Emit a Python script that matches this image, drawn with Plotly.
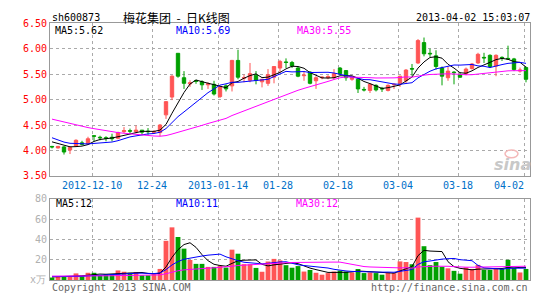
import plotly.graph_objects as go
import pandas as pd

W, H = 545, 300

dates = [
    "2012-11-29", "2012-11-30", "2012-12-03", "2012-12-04", "2012-12-05", "2012-12-06", "2012-12-07",
    "2012-12-10", "2012-12-11", "2012-12-12", "2012-12-13", "2012-12-14", "2012-12-17", "2012-12-18",
    "2012-12-19", "2012-12-20", "2012-12-21", "2012-12-24", "2012-12-25", "2012-12-26", "2012-12-27",
    "2012-12-28", "2013-01-04", "2013-01-07", "2013-01-08", "2013-01-09", "2013-01-10", "2013-01-11",
    "2013-01-14", "2013-01-15", "2013-01-16", "2013-01-17", "2013-01-18", "2013-01-21", "2013-01-22",
    "2013-01-23", "2013-01-24", "2013-01-25", "2013-01-28", "2013-01-29", "2013-01-30", "2013-01-31",
    "2013-02-01", "2013-02-04", "2013-02-05", "2013-02-06", "2013-02-07", "2013-02-08", "2013-02-18",
    "2013-02-19", "2013-02-20", "2013-02-21", "2013-02-22", "2013-02-25", "2013-02-26", "2013-02-27",
    "2013-02-28", "2013-03-01", "2013-03-04", "2013-03-05", "2013-03-06", "2013-03-07", "2013-03-08",
    "2013-03-11", "2013-03-12", "2013-03-13", "2013-03-14", "2013-03-15", "2013-03-18", "2013-03-19",
    "2013-03-20", "2013-03-21", "2013-03-22", "2013-03-25", "2013-03-26", "2013-03-27", "2013-03-28",
    "2013-03-29", "2013-04-01", "2013-04-02",
]

open_ = [4.08, 4.05, 4.07, 4.01, 4.09, 4.15, 4.13, 4.29, 4.26, 4.25,
         4.26, 4.24, 4.37, 4.39, 4.37, 4.40, 4.38, 4.36, 4.35, 4.70,
         5.05, 5.91, 5.43, 5.31, 5.37, 5.35, 5.29, 5.30, 5.06, 5.27,
         5.27, 5.77, 5.42, 5.38, 5.48, 5.35, 5.32, 5.44, 5.62, 5.74,
         5.73, 5.62, 5.47, 5.54, 5.37, 5.43, 5.43, 5.43, 5.62, 5.57,
         5.40, 5.40, 5.20, 5.18, 5.28, 5.22, 5.18, 5.29, 5.32, 5.37,
         5.61, 5.72, 6.12, 5.91, 5.86, 5.62, 5.43, 5.54, 5.49, 5.51,
         5.61, 5.72, 5.83, 5.87, 5.66, 5.83, 5.81, 5.80, 5.56, 5.63]
high = [4.09, 4.09, 4.09, 4.08, 4.22, 4.19, 4.27, 4.30, 4.29, 4.28,
        4.33, 4.37, 4.46, 4.43, 4.49, 4.40, 4.44, 4.40, 4.52, 4.97,
        5.48, 5.91, 5.56, 5.38, 5.39, 5.38, 5.34, 5.37, 5.27, 5.30,
        5.78, 5.98, 5.49, 5.72, 5.56, 5.40, 5.60, 5.66, 5.78, 5.81,
        5.76, 5.65, 5.56, 5.56, 5.46, 5.46, 5.48, 5.60, 5.64, 5.58,
        5.46, 5.41, 5.25, 5.32, 5.30, 5.25, 5.30, 5.32, 5.47, 5.60,
        5.70, 6.19, 6.22, 6.00, 5.97, 5.65, 5.65, 5.56, 5.54, 5.63,
        5.72, 5.92, 5.92, 5.89, 5.89, 5.85, 6.06, 5.82, 5.63, 5.65]
low = [4.04, 4.04, 3.92, 3.93, 4.07, 4.10, 4.11, 4.18, 4.20, 4.18,
       4.18, 4.22, 4.34, 4.32, 4.34, 4.30, 4.31, 4.33, 4.28, 4.62,
       4.99, 5.43, 5.21, 5.25, 5.31, 5.19, 5.21, 5.08, 5.03, 5.16,
       5.16, 5.40, 5.34, 5.34, 5.30, 5.24, 5.27, 5.32, 5.53, 5.62,
       5.62, 5.44, 5.37, 5.30, 5.21, 5.40, 5.40, 5.40, 5.48, 5.37,
       5.37, 5.13, 5.16, 5.13, 5.16, 5.15, 5.16, 5.21, 5.25, 5.31,
       5.47, 5.70, 5.85, 5.84, 5.59, 5.28, 5.37, 5.30, 5.43, 5.48,
       5.59, 5.70, 5.72, 5.62, 5.46, 5.76, 5.78, 5.56, 5.53, 5.34]
close = [4.07, 4.08, 3.97, 4.06, 4.20, 4.12, 4.23, 4.28, 4.25, 4.24,
         4.23, 4.35, 4.39, 4.38, 4.40, 4.36, 4.37, 4.37, 4.50, 4.96,
         5.46, 5.46, 5.32, 5.33, 5.36, 5.29, 5.31, 5.11, 5.25, 5.21,
         5.77, 5.44, 5.43, 5.51, 5.38, 5.40, 5.49, 5.65, 5.75, 5.73,
         5.66, 5.46, 5.48, 5.32, 5.43, 5.44, 5.45, 5.51, 5.51, 5.43,
         5.44, 5.21, 5.19, 5.30, 5.19, 5.21, 5.28, 5.30, 5.46, 5.58,
         5.60, 6.16, 5.90, 5.90, 5.65, 5.46, 5.56, 5.53, 5.44, 5.60,
         5.70, 5.89, 5.82, 5.65, 5.87, 5.82, 5.80, 5.59, 5.58, 5.40]
# closes of the 29 sessions before the visible window (feed the moving averages)
close_before = [4.95, 4.96, 4.94, 4.94, 4.95, 4.90, 4.92, 4.88, 4.85, 4.85,
                4.80, 4.78, 4.75, 4.72, 4.70, 4.66, 4.68, 4.62, 4.58, 4.55,
                4.50, 4.40, 4.30, 4.25, 4.20, 4.22, 4.18, 4.20, 4.18]

# volume in 万手
volume = [2.5, 3.5, 3.2, 4.0, 6.6, 4.0, 7.2, 7.2, 4.7, 5.7,
          5.7, 9.5, 8.2, 7.2, 7.9, 4.7, 4.7, 5.7, 11.0, 38.7,
          52.0, 42.5, 31.0, 19.8, 16.0, 16.0, 13.0, 13.0, 14.0, 12.3,
          30.0, 26.0, 15.7, 15.7, 12.0, 8.2, 18.3, 20.9, 19.4, 14.7,
          12.2, 13.8, 8.4, 10.0, 7.2, 5.3, 6.9, 8.4, 9.4, 8.4,
          7.5, 10.9, 6.9, 7.5, 6.9, 5.3, 7.5, 6.9, 18.4, 17.8,
          15.6, 61.6, 33.4, 14.7, 17.8, 13.1, 11.6, 9.1, 6.3, 12.5,
          11.0, 15.0, 10.0, 10.0, 11.0, 11.0, 20.0, 12.0, 7.5, 11.0]
volume_before = [4, 5, 4, 3, 5, 4, 4, 5, 3, 4, 4, 5, 4, 4, 3, 4, 5, 4, 4, 3,
                 4, 4, 3, 4, 5, 3, 3, 4, 3]

tick_dates = ["2012-12-10", "2012-12-24", "2013-01-14", "2013-01-28",
              "2013-02-18", "2013-03-04", "2013-03-18", "2013-04-02"]
tick_labels = ["2012-12-10", "12-24", "2013-01-14", "01-28",
               "02-18", "03-04", "03-18", "04-02"]
price_ticks = [3.5, 4.0, 4.5, 5.0, 5.5, 6.0, 6.5]
vol_ticks = [20, 40, 60, 80]

title_code = "sh600873"
title_name = "梅花集团\u00a0\u00a0-\u00a0\u00a0日K线图"
stamp = "2013-04-02 15:03:07"
ma_price_labels = ["MA5:5.62", "MA10:5.69", "MA30:5.55"]
ma_vol_labels = ["MA5:12", "MA10:11", "MA30:12"]

RED = "#ff5555"
GREEN = "#00a000"
MA_COLORS = ["#000000", "#0000ff", "#ff00ff"]
MONO = "DejaVu Sans Mono"

n = len(dates)
idx = list(range(n))
npre = len(close_before)

cs = pd.Series(close_before + close)
vs = pd.Series(volume_before + volume)
price_ma = [cs.rolling(k).mean().iloc[npre:].tolist() for k in (5, 10, 30)]
vol_ma = [vs.rolling(k).mean().iloc[npre:].tolist() for k in (5, 10, 30)]

vol_colors = [RED if c >= o else GREEN for o, c in zip(open_, close)]

tick_pos = [dates.index(d) for d in tick_dates]
grid_pos = [p - 0.3 for p in tick_pos]

fig = go.Figure()

fig.add_trace(go.Candlestick(
    x=idx, open=open_, high=high, low=low, close=close,
    increasing=dict(line=dict(color=RED, width=1), fillcolor=RED),
    decreasing=dict(line=dict(color=GREEN, width=1), fillcolor=GREEN),
    whiskerwidth=0, xaxis="x", yaxis="y", hoverinfo="skip",
))
for ma, col in zip(price_ma, MA_COLORS):
    fig.add_trace(go.Scatter(x=idx, y=ma, mode="lines", line=dict(color=col, width=1),
                             xaxis="x", yaxis="y", hoverinfo="skip"))

fig.add_trace(go.Bar(x=idx, y=volume, marker=dict(color=vol_colors, line=dict(width=0)),
                     width=0.8, xaxis="x2", yaxis="y2", hoverinfo="skip"))
for ma, col in zip(vol_ma, MA_COLORS):
    fig.add_trace(go.Scatter(x=idx, y=ma, mode="lines", line=dict(color=col, width=1),
                             xaxis="x2", yaxis="y2", hoverinfo="skip"))

X0, X1 = 50, 530
xr = [(X0 - 52) / 6, (X1 - 52) / 6]


def px(x):
    return x / W


def py(y):
    return 1 - y / H


axis_common = dict(showgrid=True, gridcolor="#aaaaaa", griddash="dot", gridwidth=1,
                   showline=True, mirror=True, linecolor="#999999", linewidth=1,
                   zeroline=False, fixedrange=True, ticks="")

fig.update_layout(
    width=W, height=H, margin=dict(l=0, r=0, t=0, b=0),
    paper_bgcolor="white", plot_bgcolor="white", showlegend=False,
    boxgap=0.2,
    xaxis=dict(domain=[px(X0), px(X1)], range=xr, tickvals=grid_pos, showticklabels=False,
               anchor="y", rangeslider=dict(visible=False), **axis_common),
    yaxis=dict(domain=[py(177), py(18)], range=[3.5, 6.5], tickvals=price_ticks,
               ticktext=[f"{v:.2f}" for v in price_ticks], anchor="x",
               tickfont=dict(family=MONO, size=10, color="#ff0000"), **axis_common),
    xaxis2=dict(domain=[px(X0), px(X1)], range=xr, tickvals=grid_pos, showticklabels=False,
                anchor="y2", **axis_common),
    yaxis2=dict(domain=[py(285.5), py(201)], range=[0, 80], tickvals=vol_ticks, anchor="x2",
                tickfont=dict(family=MONO, size=10, color="#b0b0b0"), **axis_common),
)

ann = []


def text(x, y, s, color="#000000", anchor="left", size=10, family=MONO):
    ann.append(dict(x=px(x), y=py(y), xref="paper", yref="paper", text=s, showarrow=False,
                    xanchor=anchor, yanchor="middle",
                    font=dict(family=family, size=size, color=color)))


text(50, 12, title_code)
text(121, 12, title_name, size=12, family="Noto Sans CJK SC")
text(532, 12, stamp, anchor="right")

for lab, col, x in zip(ma_price_labels, MA_COLORS, [53, 174, 295]):
    text(x, 25, lab, color=col)
for lab, col, x in zip(ma_vol_labels, MA_COLORS, [54, 174, 294]):
    text(x, 206, lab, color=col)

# date labels below the price panel
for p, lab in zip(grid_pos, tick_labels):
    if lab == tick_labels[-1]:
        ann.append(dict(x=p + 0.35, y=py(187), xref="x", yref="paper", text=lab, showarrow=False,
                        xanchor="right", yanchor="middle",
                        font=dict(family=MONO, size=10, color="#0070c8")))
    else:
        ann.append(dict(x=p, y=py(187), xref="x", yref="paper", text=lab, showarrow=False,
                        xanchor="center", yanchor="middle",
                        font=dict(family=MONO, size=10, color="#0070c8")))

text(28, 285, "x万", color="#b0b0b0")
text(50, 293, "Copyright 2013 SINA.COM", color="#666666")
text(530, 293, "http://finance.sina.com.cn", color="#666666", anchor="right")

# sina watermark
ann.append(dict(x=px(512), y=py(165), xref="paper", yref="paper", text="<b><i>sina</i></b>",
                showarrow=False, xanchor="center", yanchor="middle",
                font=dict(family="DejaVu Sans", size=16, color="#c8c8c8")))
fig.add_shape(type="circle", xref="paper", yref="paper",
              x0=px(505), x1=px(518), y0=py(158), y1=py(150),
              line=dict(color="#f4b8b8", width=1.5), fillcolor="rgba(0,0,0,0)")

fig.update_layout(annotations=ann)

fig.write_html("out.html")
